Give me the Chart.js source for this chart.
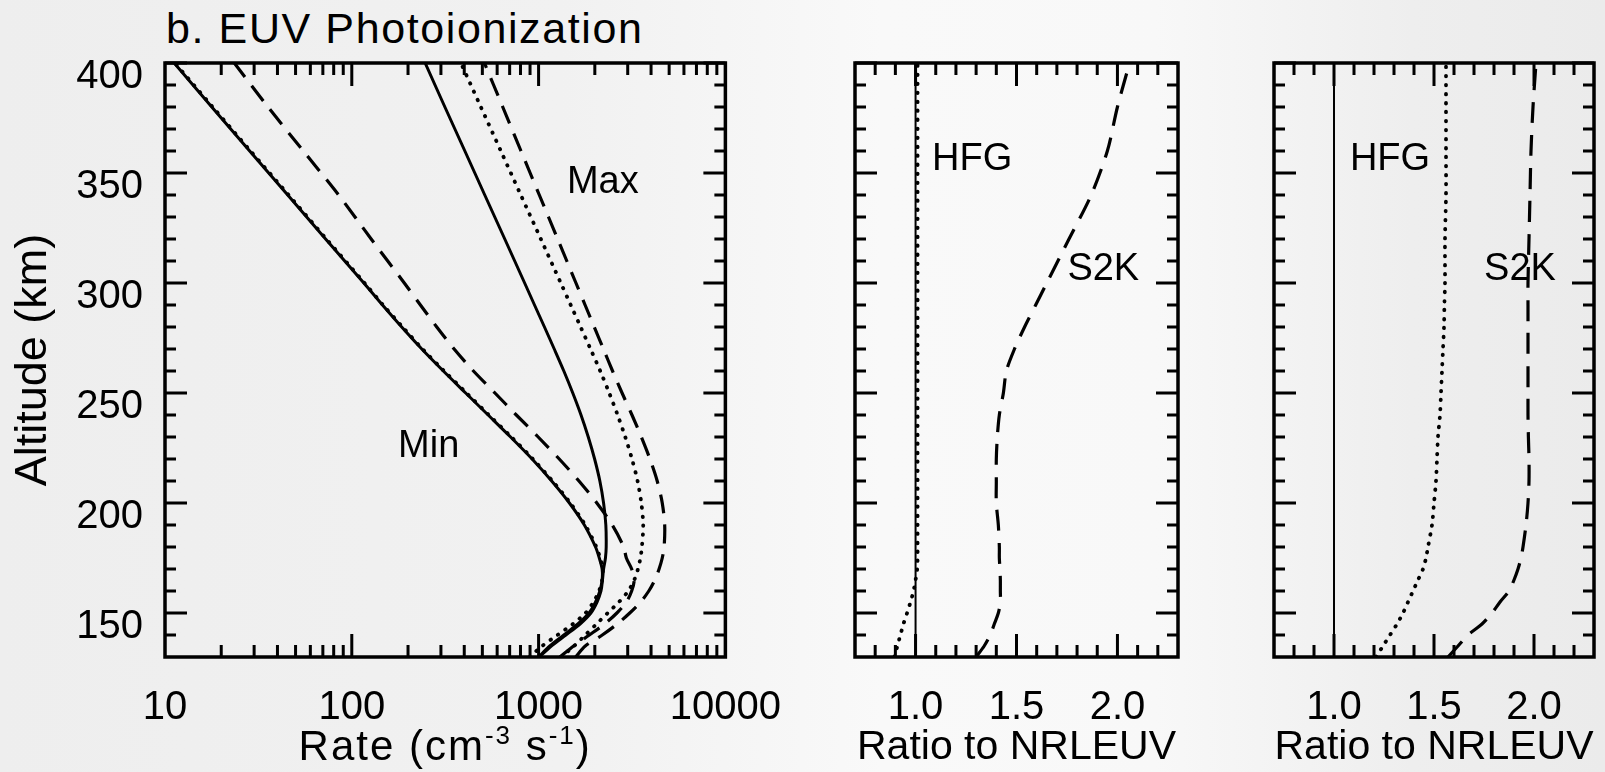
<!DOCTYPE html>
<html>
<head>
<meta charset="utf-8">
<script src="https://cdn.jsdelivr.net/npm/chart.js@4.4.1/dist/chart.umd.min.js"></script>
<style>
  html, body { margin: 0; padding: 0; }
  body {
    width: 1605px; height: 772px; position: relative; overflow: hidden;
    background: linear-gradient(90deg, #eeeeee 0%, #f1f1f1 35%, #f9f9f9 55%, #f8f8f8 72%, #eeeeee 88%, #ebebeb 100%);
    font-family: 'Liberation Sans', Arial, sans-serif;
  }
  .panel { position: absolute; top: 0; height: 772px; }
  #title { position: absolute; left: 166px; top: 7px; font-size: 43px; line-height: 43px; letter-spacing: 1.6px; color: #000; }
</style>
</head>
<body>
<div id="title">b. EUV Photoionization</div>
<div class="panel" style="left:0;width:800px"><canvas id="rateChart"></canvas></div>
<div class="panel" style="left:790px;width:440px"><canvas id="minChart"></canvas></div>
<div class="panel" style="left:1230px;width:375px"><canvas id="maxChart"></canvas></div>
<script>
// ── Data ──────────────────────────────────────────────────
const ALT = [130, 135, 140, 145, 150, 155, 160, 165, 170, 175, 180, 190, 200, 210,
             220, 230, 240, 250, 260, 270, 280, 290, 300, 320, 340, 360, 380, 400];

// Photoionization rate, cm^-3 s^-1 — solar minimum
const nrlMin = [1000, 1148, 1365, 1622, 1862, 2018, 2128, 2188, 2188, 2113, 2018, 1758, 1462, 1175,
                923, 708, 537, 407, 309, 237, 185, 146, 116, 72.4, 45.4, 28.4, 17.8, 11.2];
const hfgMin = [895, 1045, 1263, 1525, 1784, 1968, 2107, 2188, 2205, 2134, 2038, 1776, 1477, 1187,
                932, 715, 542, 411, 312, 239, 187, 147, 117, 73.1, 45.9, 28.7, 18.0, 11.3];
const s2kMin = [1300, 1540, 1870, 2255, 2625, 2950, 3150, 3250, 3150, 2950, 2855, 2480, 2050, 1645,
                1290, 995, 760, 584, 448, 353, 285, 233, 191, 127, 85, 55, 35.6, 23.5];

// solar maximum
const nrlMax = [1010, 1170, 1400, 1667, 1905, 2056, 2158, 2198, 2228, 2280, 2301, 2291, 2228, 2128,
                1995, 1845, 1687, 1524, 1365, 1213, 1075, 951, 842, 659, 515, 403, 315, 247];
const hfgMax = [1318, 1549, 1778, 2042, 2344, 2692, 3020, 3251, 3404, 3508, 3573, 3631, 3548, 3388,
                3162, 2911, 2649, 2388, 2138, 1897, 1679, 1486, 1315, 1028, 803, 628, 491, 384];
const s2kMax = [1578, 1778, 2193, 2636, 3076, 3516, 3890, 4188, 4416, 4592, 4699, 4732, 4592, 4315,
                3945, 3548, 3162, 2799, 2489, 2223, 1986, 1774, 1585, 1265, 1009, 805, 643, 513];

// Ratio to NRLEUV
const REF_ALT = [130, 400];
const refRatio = [1.0, 1.0];
const hfgMinRatio = [0.895, 0.91, 0.925, 0.94, 0.958, 0.975, 0.99, 1.0, 1.008, 1.01, 1.01, 1.01, 1.01, 1.01,
                     1.01, 1.01, 1.01, 1.01, 1.01, 1.01, 1.01, 1.01, 1.01, 1.01, 1.01, 1.01, 1.01, 1.01];
const s2kMinRatio = [1.30, 1.34, 1.37, 1.39, 1.41, 1.42, 1.42, 1.42, 1.418, 1.415, 1.415, 1.41, 1.40, 1.40,
                     1.40, 1.405, 1.415, 1.435, 1.45, 1.49, 1.54, 1.595, 1.65, 1.76, 1.87, 1.95, 2.0, 2.06];
const hfgMaxRatio = [1.21, 1.245, 1.28, 1.315, 1.345, 1.37, 1.395, 1.42, 1.445, 1.46, 1.47, 1.49, 1.50, 1.51,
                     1.515, 1.52, 1.53, 1.535, 1.54, 1.545, 1.55, 1.552, 1.555, 1.555, 1.56, 1.56, 1.56, 1.56];
const s2kMaxRatio = [1.57, 1.62, 1.67, 1.74, 1.79, 1.83, 1.875, 1.90, 1.92, 1.935, 1.945, 1.96, 1.97, 1.975,
                     1.975, 1.972, 1.97, 1.97, 1.97, 1.97, 1.97, 1.97, 1.97, 1.975, 1.98, 1.985, 1.995, 2.01];

// ── Axes ──────────────────────────────────────────────────
const Y_LABELS = [150, 200, 250, 300, 350, 400];
const Y_MINOR  = [140, 160, 170, 180, 190, 210, 220, 230, 240, 260, 270, 280, 290,
                  310, 320, 330, 340, 360, 370, 380, 390];
const RATE_LABELS = [10, 100, 1000, 10000];
const RATE_MINOR  = [20, 30, 40, 50, 60, 70, 80, 90, 200, 300, 400, 500, 600, 700, 800, 900,
                     2000, 3000, 4000, 5000, 6000, 7000, 8000, 9000];
const RATIO_LABELS = [1.0, 1.5, 2.0];
const RATIO_MINOR  = [0.8, 0.9, 1.1, 1.2, 1.3, 1.4, 1.6, 1.7, 1.8, 1.9, 2.1, 2.2];

const FONT = "'Liberation Sans', Arial, sans-serif";
Chart.defaults.font.family = FONT;
Chart.defaults.color = '#000';

const pts = (xs, ys) => xs.map((v, i) => ({ x: v, y: ys[i] }));

const SOLID  = { borderDash: [], borderWidth: 3 };
const DASHED = { borderDash: [19, 11], borderWidth: 3.2 };
const DOTTED = { borderDash: [0.5, 8.5], borderWidth: 3.8, borderCapStyle: 'round' };

function line(data, style) {
  return Object.assign({ data, borderColor: '#000', pointRadius: 0, tension: 0.3, fill: false }, style);
}

// ── Frame, inward ticks, in-plot labels, rate axis title ──
const frameTicks = {
  id: 'frameTicks',
  afterDatasetsDraw(chart, args, o) {
    const { ctx, chartArea: a, scales: { x, y } } = chart;
    ctx.save();
    ctx.strokeStyle = '#000';
    ctx.lineCap = 'butt';
    ctx.lineWidth = 3;
    ctx.beginPath();
    const xt = (vals, len) => vals.forEach(v => {
      const px = x.getPixelForValue(v);
      ctx.moveTo(px, a.bottom); ctx.lineTo(px, a.bottom - len);
      ctx.moveTo(px, a.top);    ctx.lineTo(px, a.top + len);
    });
    const yt = (vals, len) => vals.forEach(v => {
      const py = y.getPixelForValue(v);
      ctx.moveTo(a.left, py);  ctx.lineTo(a.left + len, py);
      ctx.moveTo(a.right, py); ctx.lineTo(a.right - len, py);
    });
    xt(o.xMajor, 23); xt(o.xMinor, 12);
    yt(Y_LABELS, 22); yt(Y_MINOR, 11);
    ctx.stroke();
    ctx.lineWidth = 3.5;
    ctx.strokeRect(a.left, a.top, a.right - a.left, a.bottom - a.top);

    ctx.fillStyle = '#000';
    ctx.font = `38px ${FONT}`;
    ctx.textAlign = 'center';
    ctx.textBaseline = 'middle';
    (o.labels || []).forEach(l => ctx.fillText(l.text, x.getPixelForValue(l.x), y.getPixelForValue(l.y)));

    // axis title with raised exponents
    if (o.titleParts) {
      ctx.textAlign = 'left';
      ctx.textBaseline = 'alphabetic';
      if ('letterSpacing' in ctx) ctx.letterSpacing = '2px';
      const w = o.titleParts.reduce((s, p) => {
        ctx.font = `${p.size}px ${FONT}`;
        return s + ctx.measureText(p.text).width;
      }, 0);
      let cx = (a.left + a.right) / 2 - w / 2;
      o.titleParts.forEach(p => {
        ctx.font = `${p.size}px ${FONT}`;
        ctx.fillText(p.text, cx, 760 - p.rise);
        cx += ctx.measureText(p.text).width;
      });
    }
    ctx.restore();
  }
};

function makePanel(id, cfg) {
  return new Chart(document.getElementById(id), {
    type: 'scatter',
    data: { datasets: cfg.datasets.map(d => Object.assign(d, { showLine: true })) },
    options: {
      responsive: true,
      maintainAspectRatio: false,
      animation: false,
      devicePixelRatio: 1,
      layout: { padding: { top: 63, right: cfg.padRight, left: 0, bottom: 0 } },
      plugins: {
        legend: { display: false },
        tooltip: { enabled: false },
        frameTicks: { xMajor: cfg.xMajor, xMinor: cfg.xMinor, labels: cfg.labels, titleParts: cfg.titleParts },
      },
      scales: {
        x: {
          type: cfg.xType,
          min: cfg.xMin, max: cfg.xMax,
          grid: { display: false },
          border: { display: false },
          afterBuildTicks: s => { s.ticks = cfg.xLabels.map(v => ({ value: v })); },
          afterFit: s => { s.height = 115; },
          ticks: {
            autoSkip: false, maxRotation: 0, padding: 19,
            font: { size: 40 },
            callback: cfg.xFormat,
          },
          title: { display: !!cfg.xTitle, text: cfg.xTitle, font: { size: 41 }, padding: { top: 0, bottom: 0 } },
        },
        y: {
          type: 'linear',
          min: 130, max: 400,
          grid: { display: false },
          border: { display: false },
          afterBuildTicks: s => { s.ticks = Y_LABELS.map(v => ({ value: v })); },
          afterFit: s => { s.width = cfg.yWidth; },
          ticks: {
            display: cfg.yLabels, padding: 14, labelOffset: 14,
            font: { size: 40 },
          },
          title: { display: cfg.yLabels, text: 'Altitude (km)', font: { size: 45 }, padding: { top: 7, bottom: 0 } },
        },
      },
    },
    plugins: [frameTicks],
  });
}

// ── Panels ────────────────────────────────────────────────
makePanel('rateChart', {
  xType: 'logarithmic', xMin: 10, xMax: 10000,
  xLabels: RATE_LABELS, xMajor: [100, 1000], xMinor: RATE_MINOR,
  xFormat: v => String(v),
  xTitle: '',
  titleParts: [
    { text: 'Rate (cm', size: 42, rise: 0 },
    { text: '-3', size: 26, rise: 16 },
    { text: ' s', size: 42, rise: 0 },
    { text: '-1', size: 26, rise: 16 },
    { text: ')', size: 42, rise: 0 },
  ],
  yWidth: 165, yLabels: true, padRight: 72,
  labels: [{ text: 'Max', x: 2208, y: 345.5 }, { text: 'Min', x: 258, y: 225.5 }],
  datasets: [
    line(pts(nrlMin, ALT), SOLID),
    line(pts(hfgMin, ALT), DOTTED),
    line(pts(s2kMin, ALT), DASHED),
    line(pts(nrlMax, ALT), SOLID),
    line(pts(hfgMax, ALT), DOTTED),
    line(pts(s2kMax, ALT), DASHED),
  ],
});

const ratioFormat = v => Number(v).toFixed(1);

makePanel('minChart', {
  xType: 'linear', xMin: 0.7, xMax: 2.3,
  xLabels: RATIO_LABELS, xMajor: RATIO_LABELS, xMinor: RATIO_MINOR,
  xFormat: ratioFormat,
  xTitle: 'Ratio to NRLEUV',
  yWidth: 65, yLabels: false, padRight: 52,
  labels: [{ text: 'HFG', x: 1.28, y: 356 }, { text: 'S2K', x: 1.93, y: 306 }],
  datasets: [
    line(pts(refRatio, REF_ALT), { borderDash: [], borderWidth: 2 }),
    line(pts(hfgMinRatio, ALT), DOTTED),
    line(pts(s2kMinRatio, ALT), { borderDash: [21, 12], borderWidth: 3.2 }),
  ],
});

makePanel('maxChart', {
  xType: 'linear', xMin: 0.7, xMax: 2.3,
  xLabels: RATIO_LABELS, xMajor: RATIO_LABELS, xMinor: RATIO_MINOR,
  xFormat: ratioFormat,
  xTitle: 'Ratio to NRLEUV',
  yWidth: 44, yLabels: false, padRight: 11,
  labels: [{ text: 'HFG', x: 1.28, y: 356 }, { text: 'S2K', x: 1.93, y: 306 }],
  datasets: [
    line(pts(refRatio, REF_ALT), { borderDash: [], borderWidth: 2 }),
    line(pts(hfgMaxRatio, ALT), DOTTED),
    line(pts(s2kMaxRatio, ALT), { borderDash: [21, 12], borderWidth: 3.2 }),
  ],
});
</script>
</body>
</html>
